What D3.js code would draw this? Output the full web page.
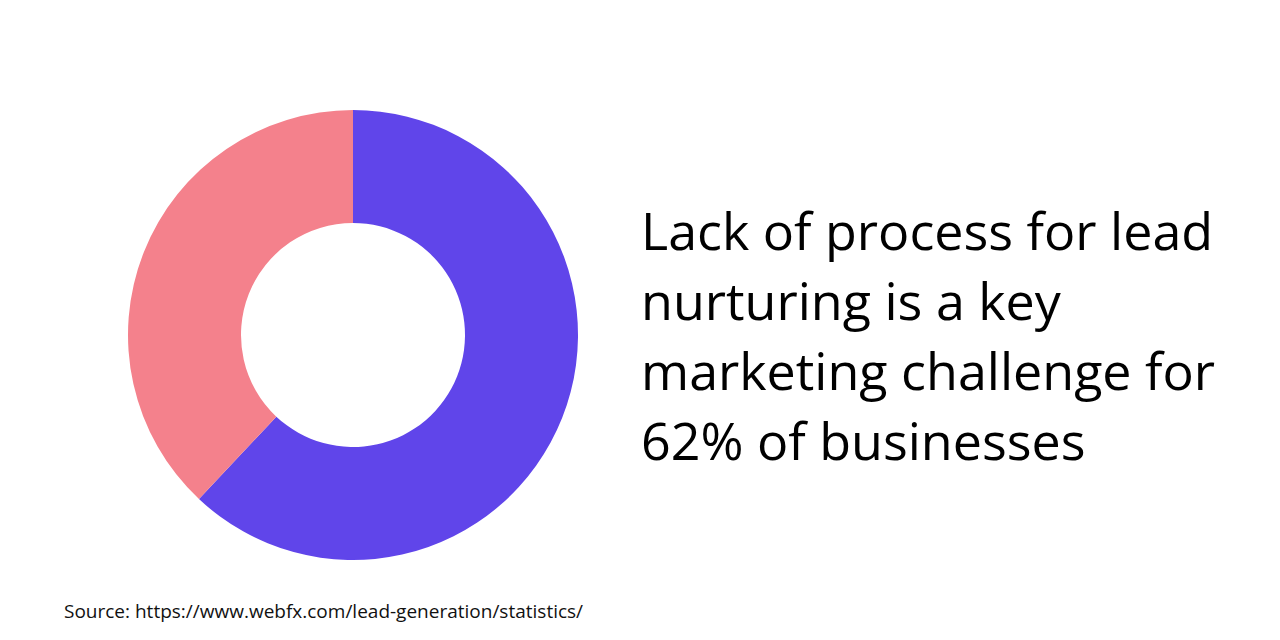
<!DOCTYPE html>
<html>
<meta charset="utf-8">
<style>
  body { margin: 0; padding: 0; background: #fff; }
  svg { display: block; }
</style>
<svg id="chart" width="1280" height="640"></svg>
<script src="https://cdn.jsdelivr.net/npm/d3@7"></script>
<script>
var categories = ["Lack of process for lead nurturing", "Other"];
var values = [62, 38];
var colors = ["#6045EA", "#F4818C"];
var headline = ["Lack of process for lead", "nurturing is a key", "marketing challenge for", "62% of businesses"];
var source = "Source: https://www.webfx.com/lead-generation/statistics/";

var svg = d3.select("#chart");
var cx = 353, cy = 335, outerR = 225, innerR = 112;

var pie = d3.pie().sort(null).value(function(d) { return d; });
var arc = d3.arc().innerRadius(innerR).outerRadius(outerR);
var color = d3.scaleOrdinal().domain(categories).range(colors);

var g = svg.append("g").attr("transform", "translate(" + cx + "," + cy + ")");
g.selectAll("path")
    .data(pie(values))
  .enter().append("path")
    .attr("d", arc)
    .attr("fill", function(d, i) { return color(categories[i]); });

svg.append("g")
    .selectAll("text")
    .data(headline)
  .enter().append("text")
    .attr("x", 641)
    .attr("y", function(d, i) { return 250 + i * 70; })
    .style("font-family", "'Open Sans', sans-serif")
    .style("font-size", "52px")
    .attr("fill", "#000")
    .text(function(d) { return d; });

svg.append("text")
    .attr("x", 64)
    .attr("y", 618)
    .style("font-family", "'Open Sans', sans-serif")
    .style("font-size", "19px")
    .attr("fill", "#111")
    .text(source);
</script>
</html>
